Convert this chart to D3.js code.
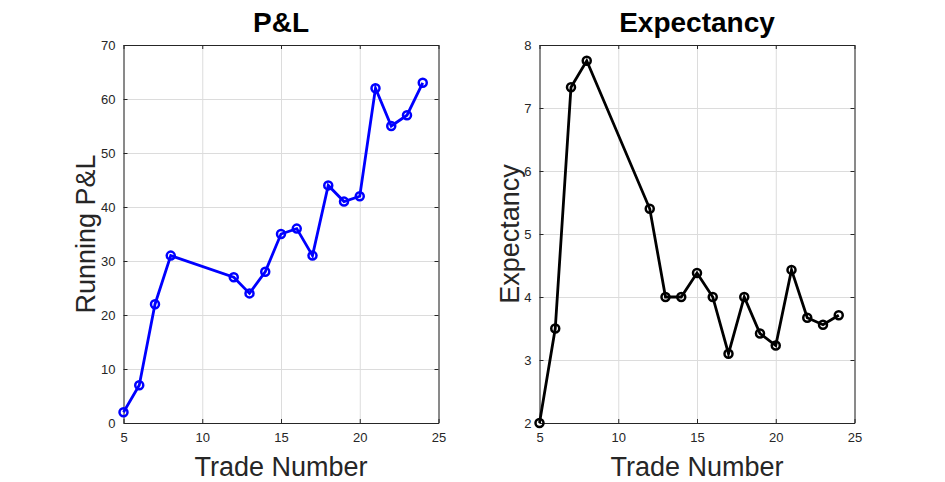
<!DOCTYPE html>
<html lang="en">
<head>
    <meta charset="UTF-8">
    <title>P&L / Expectancy</title>
    <script src="https://cdn.jsdelivr.net/npm/d3@7"></script>
    <style>
        body { margin: 0; background: #fff; }
        svg, svg text { font-family: Arial, "Liberation Sans", sans-serif; }
        .grid line { stroke: #dcdcdc; }
        .grid path { display: none; }
    </style>
</head>
<body>
<svg id="chart" width="945" height="482"></svg>
<script>
    var trades = [5, 6, 7, 8, 12, 13, 14, 15, 16, 17, 18, 19, 20, 21, 22, 23, 24]
    var pnl = [2, 7, 22, 31, 27, 24, 28, 35, 36, 31, 44, 41, 42, 62, 55, 57, 63]
    var expectancy = [2, 3.5, 7.33, 7.75, 5.4, 4, 4, 4.38, 4, 3.1, 4, 3.42, 3.23, 4.43, 3.67, 3.56, 3.71]
    var xTicks = [5, 10, 15, 20, 25]
    var pnlTicks = [0, 10, 20, 30, 40, 50, 60, 70]
    var expTicks = [2, 3, 4, 5, 6, 7, 8]

    var svg = d3.select('#chart')

    function drawPanel (opts) {
        var w = 315, h = 378
        var g = svg.append('g').attr('transform', 'translate(' + opts.left + ',45)')
        var x = d3.scaleLinear().domain([5, 25]).range([0, w])
        var y = d3.scaleLinear().domain(opts.yDomain).range([h, 0])
        var fmt = d3.format('d')

        // grid
        g.append('g').attr('class', 'grid')
          .call(d3.axisBottom(x).tickValues(xTicks).tickSize(h).tickFormat(''))
        g.append('g').attr('class', 'grid')
          .call(d3.axisLeft(y).tickValues(opts.yTicks).tickSize(-w).tickFormat(''))

        // box axes, ticks pointing inward
        g.append('g').attr('transform', 'translate(0,' + h + ')')
          .call(d3.axisBottom(x).tickValues(xTicks).tickFormat(fmt).tickSizeInner(-4).tickSizeOuter(0).tickPadding(10))
        g.append('g')
          .call(d3.axisLeft(y).tickValues(opts.yTicks).tickFormat(fmt).tickSizeInner(-4).tickSizeOuter(0).tickPadding(8))
        g.append('g').call(d3.axisTop(x).tickValues(xTicks).tickSizeInner(-4).tickSizeOuter(0).tickFormat(''))
        g.append('g').attr('transform', 'translate(' + w + ',0)')
          .call(d3.axisRight(y).tickValues(opts.yTicks).tickSizeInner(-4).tickSizeOuter(0).tickFormat(''))
        g.selectAll('g').attr('font-family', null).attr('font-size', null)
        g.selectAll('.tick text').attr('font-size', 13).attr('fill', '#262626')
        g.selectAll('.domain').attr('stroke', '#262626')
        g.selectAll('.tick line').filter(function () { return !this.closest('.grid') }).attr('stroke', '#262626')

        var line = d3.line().x(function (d, i) { return x(trades[i]) }).y(function (d) { return y(d) })
        g.append('path').datum(opts.values)
          .attr('d', line).attr('fill', 'none')
          .attr('stroke', opts.color).attr('stroke-width', 2.8)
        g.selectAll('circle.pt').data(opts.values).enter().append('circle')
          .attr('class', 'pt')
          .attr('cx', function (d, i) { return x(trades[i]) })
          .attr('cy', function (d) { return y(d) })
          .attr('r', 4).attr('fill', 'none')
          .attr('stroke', opts.color).attr('stroke-width', 2.5)

        g.append('text').attr('x', w / 2).attr('y', -13)
          .attr('text-anchor', 'middle').attr('font-size', 28).attr('font-weight', 'bold')
          .attr('fill', '#000').text(opts.title)
        g.append('text').attr('x', w / 2).attr('y', h + 53)
          .attr('text-anchor', 'middle').attr('font-size', 27)
          .attr('fill', '#262626').text('Trade Number')
        g.append('text').attr('transform', 'translate(' + opts.yLabelX + ',' + h / 2 + ') rotate(-90)')
          .attr('text-anchor', 'middle').attr('font-size', 27)
          .attr('fill', '#262626').text(opts.yLabel)
    }

    drawPanel({ left: 123.5, yDomain: [0, 70], yTicks: pnlTicks, values: pnl, color: '#0000ff',
        title: 'P&L', yLabel: 'Running P&L', yLabelX: -29 })
    drawPanel({ left: 539.5, yDomain: [2, 8], yTicks: expTicks, values: expectancy, color: '#000000',
        title: 'Expectancy', yLabel: 'Expectancy', yLabelX: -21 })
</script>
</body>
</html>
